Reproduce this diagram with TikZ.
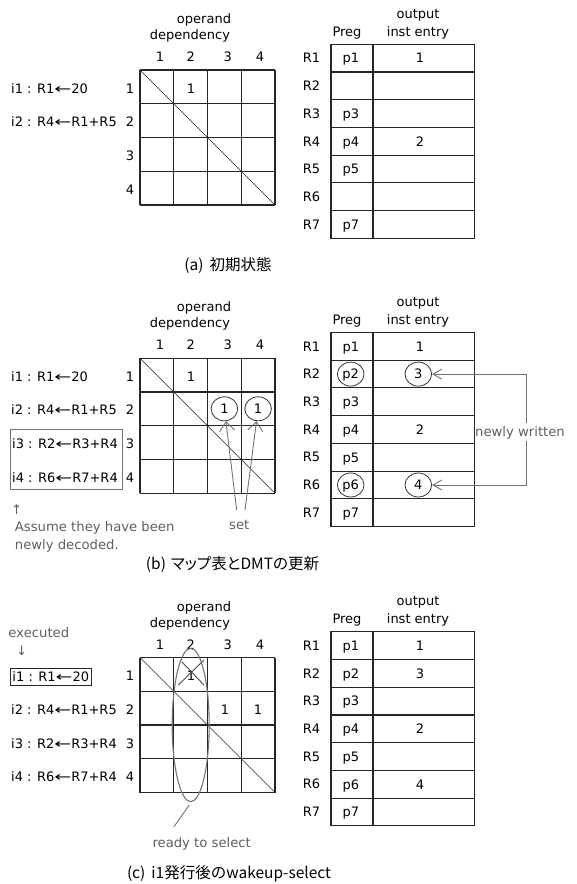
\documentclass[tikz,border=0pt]{standalone}
\usepackage{fontspec}
\usepackage{graphicx}
\setmainfont{DejaVu Sans}
\newfontfamily\jpfont{Noto Sans CJK JP}
\newfontfamily\jpfontp[RawFeature=+palt]{Noto Sans CJK JP}
\usetikzlibrary{arrows.meta,shapes.geometric,calc}
\definecolor{annot}{RGB}{95,95,95}
\definecolor{gline}{RGB}{115,115,115}
\newcommand\larr{\scalebox{1.55}[1]{←}}

\newcommand\dmtgrid[1]{%
  \foreach \i in {0,...,4}{%
    \draw[gridline] ({140+\i*33.75},70) -- ({140+\i*33.75},205);
    \draw[gridline] (140,{70+\i*33.75}) -- (275,{70+\i*33.75});
  }
  \draw[diag] (140,70) -- (275,205);
  \node[lbl] (#1op) at (204,19) {operand};
  \node[lbl] (#1dep) at (190,35) {dependency};
  \foreach \cl/\xx in {1/160,2/190.7,3/227.7,4/260}{\node[lbl] (#1col\cl) at (\xx,57) {\cl};}
  \foreach \rl/\yy in {1/88.5,2/122,3/156,4/189.5}{\node[lbl] (#1row\rl) at (130,\yy) {\rl};}
}
\newcommand\regtable[1]{%
  \draw[gridline] (331,44.3) rectangle (474.5,238.3);
  \draw[gridline] (373,44.3) -- (373,238.3);
  \foreach \k in {1,...,6}{\draw[gridline] (331,{44.3+\k*27.714}) -- (474.5,{44.3+\k*27.714});}
  \node[lbl] (#1preg) at (347,31.7) {Preg};
  \node[lbl] (#1out) at (418,13.3) {output};
  \node[lbl] (#1inst) at (418,31.7) {inst entry};
  \foreach \rr in {1,...,7}{\node[lbl] (#1R\rr) at (311.5,{44.3+(\rr-0.5)*27.714}) {R\rr};}
}

\begin{document}
\begin{tikzpicture}[x=1pt,y=-1pt,
  lbl/.style={font=\fontsize{13}{15}\selectfont, inner sep=0pt, text height=9.5pt, text depth=0pt},
  note/.style={font=\fontsize{13.2}{15}\selectfont, text=annot, inner sep=0pt, text height=9.5pt, text depth=0pt},
  capt/.style={font=\jpfont\fontsize{15.5}{18}\selectfont, inner sep=0pt},
  gridline/.style={line width=1.1pt, draw=black!85},
  diag/.style={line width=0.6pt, draw=black!85},
  gl/.style={line width=0.9pt, draw=gline},
  ring/.style={draw=black!80, line width=0.8pt, ellipse, minimum width=26.6pt, minimum height=24pt}]
\useasboundingbox (0,0) rectangle (576,884);

% ---------------- panel (a)
\dmtgrid{a}
\node[lbl] (ag12) at (191,88.5) {1};
\node[lbl, anchor=west] (ai1) at (11,88.5) {i1 : R1\larr20};
\node[lbl, anchor=west] (ai2) at (11,122) {i2 : R4\larr R1+R5};
\regtable{a}
\foreach \r/\y/\t in {1/58.2/p1,3/113.6/p3,4/141.3/p4,5/169.1/p5,7/224.5/p7}{\node[lbl] (ap\r) at (351,\y) {\t};}
\node[lbl] (ao1) at (420,58.2) {1};
\node[lbl] (ao4) at (420,141.3) {2};
\node[capt] (capa) at (228,265) {(a)\hspace{6pt}初期状態};

% ---------------- panel (b)
\begin{scope}[shift={(0,288.2)}]
\dmtgrid{b}
\node[lbl] (bg12) at (191,88.5) {1};
\node[lbl, ring] (bg23) at (224.4,120.6) {1};
\node[lbl, ring] (bg24) at (258.1,120.6) {1};
\node[lbl, anchor=west] (bi1) at (11,88.5) {i1 : R1\larr20};
\node[lbl, anchor=west] (bi2) at (11,122) {i2 : R4\larr R1+R5};
\node[lbl, anchor=west] (bi3) at (12,156) {i3 : R2\larr R3+R4};
\node[lbl, anchor=west] (bi4) at (12,189.5) {i4 : R6\larr R7+R4};
\draw[gl] (10.7,141.3) rectangle (122.7,201.3);
\node[note] (bup) at (16.7,222) {↑};
\node[note, anchor=west] (bas1) at (14.7,238.7) {Assume they have been};
\node[note, anchor=west] (bas2) at (14.7,257) {newly decoded.};
\node[note] (bset) at (239.3,236.3) {set};
\coordinate (bs1) at (236.7,222);
\coordinate (bs2) at (245,222);
\draw[gl, -{Straight Barb[length=9pt,width=15pt]}] (bs1) -- (bg23);
\draw[gl, -{Straight Barb[length=9pt,width=15pt]}] (bs2) -- (bg24);
\regtable{b}
\foreach \r/\y/\t in {1/58.2/p1,3/113.6/p3,4/141.3/p4,5/169.1/p5,7/224.5/p7}{\node[lbl] (bp\r) at (351,\y) {\t};}
\node[lbl, ring] (bp2) at (350.7,85.9) {p2};
\node[lbl, ring] (bp6) at (350.7,196.8) {p6};
\node[lbl] (bo1) at (420,58.2) {1};
\node[lbl, ring] (bo2) at (418.3,85.9) {3};
\node[lbl] (bo4) at (420,141.3) {2};
\node[lbl, ring] (bo6) at (418.3,196.8) {4};
\draw[gl, {Straight Barb[length=9pt,width=10pt]}-{Straight Barb[length=9pt,width=10pt]}] (bo2.east) -- ++(94.4,0) |- (bo6.east);
\node[note, fill=white, inner ysep=4pt, inner xsep=0pt] (bnw) at (520,143.7) {newly written};
\end{scope}
\node[capt, font=\jpfontp\fontsize{15.5}{18}\selectfont] (capb) at (232.5,565) {(b)\hspace{5pt}マップ表とDMTの更新};

% ---------------- panel (c)
\begin{scope}[shift={(0,587.5)}]
\dmtgrid{c}
\node[lbl] (cg12) at (191,88.5) {1};
\node[lbl] (cg23) at (225,122) {1};
\node[lbl] (cg24) at (258.1,122) {1};
\node[note, anchor=west] (cex) at (8.3,45.2) {executed};
\node[note] (cdown) at (21.7,63.5) {↓};
\node[lbl, anchor=west, draw=black!85, line width=1pt, inner xsep=2pt, inner ysep=3.9pt] (ci1) at (10,89.5) {i1 : R1\larr20};
\node[lbl, anchor=west] (ci2) at (11,122) {i2 : R4\larr R1+R5};
\node[lbl, anchor=west] (ci3) at (11,156) {i3 : R2\larr R3+R4};
\node[lbl, anchor=west] (ci4) at (11,189.5) {i4 : R6\larr R7+R4};
\draw[gl, line width=1.1pt] (190.7,137.5) ellipse [x radius=18.5, y radius=76.7];
\draw[line width=0.9pt, draw=black!70] (178.3,97.5) -- (204,72.5) (181.7,74.2) -- (204,97.5);
\coordinate (cr1) at (189.3,217.5);
\coordinate (cr2) at (174,239.2);
\draw[gl] (cr1) -- (cr2);
\node[note] (cready) at (201.7,255.2) {ready to select};
\regtable{c}
\foreach \r/\y/\t in {1/58.2/p1,2/85.9/p2,3/113.6/p3,4/141.3/p4,5/169.1/p5,6/196.8/p6,7/224.5/p7}{\node[lbl] (cp\r) at (351,\y) {\t};}
\node[lbl] (co1) at (420,58.2) {1};
\node[lbl] (co2) at (420,85.9) {3};
\node[lbl] (co4) at (420,141.3) {2};
\node[lbl] (co6) at (420,196.8) {4};
\end{scope}
\node[capt] (capc) at (229,874) {(c)\hspace{6pt}i1発行後のwakeup-select};
\end{tikzpicture}
\end{document}
